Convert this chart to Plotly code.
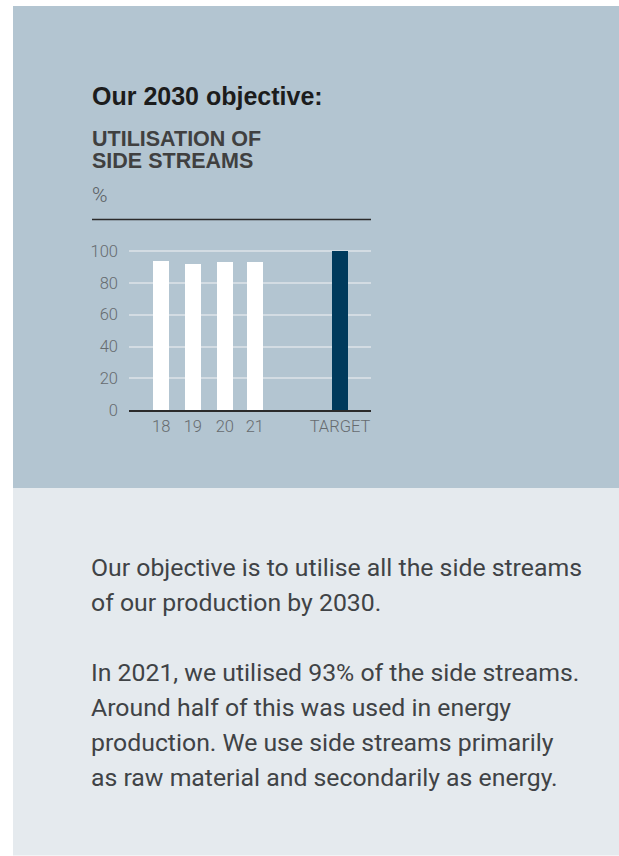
import plotly.graph_objects as go

W, H = 619, 856

# ---- data ----
categories = ["18", "19", "20", "21", "TARGET"]
values = [94, 92, 93.5, 93.5, 100]
y_ticks = [0, 20, 40, 60, 80, 100]
title_text = "Our 2030 objective:"
subtitle_lines = ["UTILISATION OF", "SIDE STREAMS"]
unit_text = "%"
body_lines = [
    "Our objective is to utilise all the side streams",
    "of our production by 2030.",
    "",
    "In 2021, we utilised 93% of the side streams.",
    "Around half of this was used in energy",
    "production. We use side streams primarily",
    "as raw material and secondarily as energy.",
]

# ---- layout (pixel geometry) ----
bar_centers = [161.2, 192.8, 224.8, 254.8, 340.0]
bar_width = 15.7
bar_colors = ["#ffffff"] * 4 + ["#003a5c"]
plot_x0, plot_x1 = 129, 371
y0_px = 410.3
px_per_unit = 1.594
y_max = 102
y_top_px = y0_px - px_per_unit * y_max

BLUE = "#b3c5d1"
LIGHT = "#e5eaee"
DARK = "#2b2b2b"
GRAY = "#666b6f"


def px(x):
    return x / W


def py(y):
    return 1 - y / H


fig = go.Figure()
fig.add_trace(go.Bar(
    x=bar_centers, y=values, width=bar_width,
    marker=dict(color=bar_colors, line=dict(width=0)),
    hoverinfo="skip", showlegend=False,
))

shapes = [
    dict(type="rect", xref="paper", yref="paper", x0=px(13), x1=px(619), y0=py(488), y1=py(6),
         fillcolor=BLUE, line=dict(width=0), layer="below"),
    dict(type="rect", xref="paper", yref="paper", x0=px(13), x1=px(619), y0=py(855.5), y1=py(488),
         fillcolor=LIGHT, line=dict(width=0), layer="below"),
    dict(type="line", xref="paper", yref="paper", x0=px(92), x1=px(371), y0=py(219.5), y1=py(219.5),
         line=dict(color=DARK, width=1.5)),
]

annotations = [
    dict(text=title_text, x=px(90), y=py(96), xref="paper", yref="paper",
         xanchor="left", yanchor="middle", showarrow=False,
         font=dict(family="Liberation Sans", size=25, color="#1c1c1c", weight="bold")),
    dict(text=subtitle_lines[0], x=px(90), y=py(138.5), xref="paper", yref="paper",
         xanchor="left", yanchor="middle", showarrow=False,
         font=dict(family="Liberation Sans", size=21.5, color="#404040", weight="bold")),
    dict(text=subtitle_lines[1], x=px(90), y=py(161.5), xref="paper", yref="paper",
         xanchor="left", yanchor="middle", showarrow=False,
         font=dict(family="Liberation Sans", size=21.5, color="#404040", weight="bold")),
    dict(text=unit_text, x=px(90), y=py(194.5), xref="paper", yref="paper",
         xanchor="left", yanchor="middle", showarrow=False,
         font=dict(family="Roboto", size=21, color="#5a5f63", weight=300)),
]

for i, line in enumerate(body_lines):
    if not line:
        continue
    annotations.append(dict(
        text=line, x=px(89), y=py(567 + 35 * i), xref="paper", yref="paper",
        xanchor="left", yanchor="middle", showarrow=False,
        font=dict(family="Roboto", size=24.8, color="#404346", weight=400),
    ))

fig.update_layout(
    template="none",
    width=W, height=H, autosize=False,
    margin=dict(l=0, r=0, t=0, b=0, pad=0, autoexpand=False),
    paper_bgcolor="#ffffff",
    plot_bgcolor="rgba(0,0,0,0)",
    shapes=shapes,
    annotations=annotations,
    bargap=0,
    xaxis=dict(
        domain=[px(plot_x0), px(plot_x1)], range=[plot_x0, plot_x1],
        tickmode="array", tickvals=bar_centers, ticktext=categories,
        showgrid=False, zeroline=False, showline=True, linecolor=DARK, linewidth=1.5,
        ticks="", ticklabelstandoff=0, automargin=False,
        tickfont=dict(family="Roboto", size=16.5, color=GRAY, weight=300),
        fixedrange=True,
    ),
    yaxis=dict(
        domain=[py(y0_px), py(y_top_px)], range=[0, y_max],
        tickmode="array", tickvals=y_ticks,
        showgrid=True, gridcolor="#d3dce3", gridwidth=1.5,
        zeroline=False, showline=False, ticks="", ticklabelstandoff=10, automargin=False,
        tickfont=dict(family="Roboto", size=16.5, color=GRAY, weight=300),
        fixedrange=True,
    ),
)

fig.write_html(
    "out.html",
    config={"displayModeBar": False},
    post_script="document.body.style.margin='0';",
)
